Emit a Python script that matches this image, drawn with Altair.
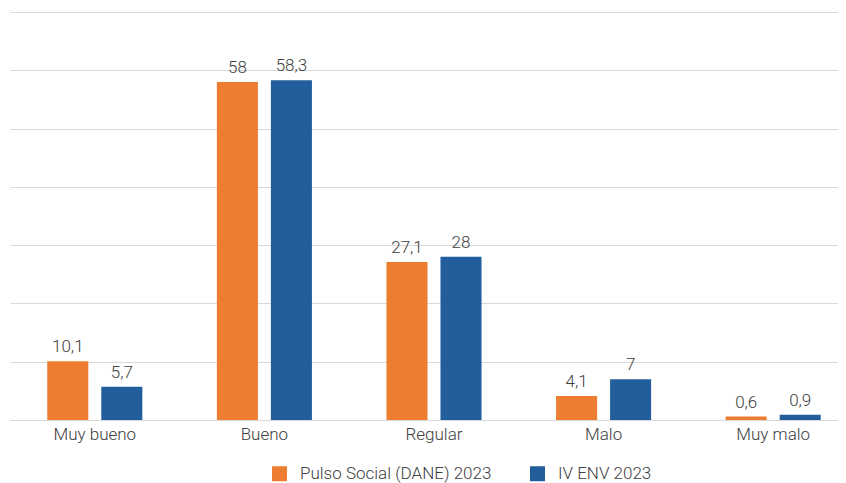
import altair as alt
import pandas as pd

categories = ["Muy bueno", "Bueno", "Regular", "Malo", "Muy malo"]
series = ["Pulso Social (DANE) 2023", "IV ENV 2023"]
pulso = [10.1, 58, 27.1, 4.1, 0.6]
env = [5.7, 58.3, 28, 7, 0.9]
colors = ["#ED7D31", "#225E9C"]
y_ticks = [0, 10, 20, 30, 40, 50, 60, 70]

rows = []
for c, a, b in zip(categories, pulso, env):
    rows.append({"cat": c, "serie": series[0], "val": a})
    rows.append({"cat": c, "serie": series[1], "val": b})
df = pd.DataFrame(rows)
df["label"] = df["val"].map(lambda v: f"{v:g}".replace(".", ","))

FONT = "Roboto"
TXT = "#404040"
GRID = "#D9D9D9"
W = 300

base = alt.Chart(df).encode(
    x=alt.X(
        "cat:N",
        sort=categories,
        scale=alt.Scale(range=[0, 848], paddingInner=0, paddingOuter=0),
        axis=alt.Axis(
            title=None, labelAngle=0, ticks=False, domain=True, domainColor=GRID,
            labelFontSize=17, labelColor=TXT, labelFont=FONT, labelFontWeight=W,
            labelPadding=6,
        ),
    ),
    xOffset=alt.XOffset("serie:N", sort=series,
                        scale=alt.Scale(paddingInner=0.24, paddingOuter=0.69)),
    y=alt.Y(
        "val:Q",
        scale=alt.Scale(domain=[0, 70], nice=False),
        axis=alt.Axis(title=None, labels=False, ticks=False, domain=False,
                      values=y_ticks, grid=True, gridColor=GRID, gridWidth=1),
    ),
)

bars = base.mark_bar().encode(
    color=alt.Color(
        "serie:N", sort=series,
        scale=alt.Scale(domain=series, range=colors),
        legend=alt.Legend(
            title=None, orient="none", legendX=261, legendY=453,
            direction="horizontal", symbolType="square", symbolSize=225,
            symbolStrokeWidth=0, labelFontSize=17, labelFont=FONT,
            labelFontWeight=W, labelColor=TXT, columnPadding=37,
            labelOffset=12, labelLimit=400,
        ),
    )
)

text = base.mark_text(
    baseline="alphabetic", dy=-9, fontSize=17, font=FONT, fontWeight=W,
    color=TXT
).encode(text="label:N")

chart = (bars + text).properties(
    width=828, height=408,
    autosize=alt.AutoSizeParams(type="none"),
    padding={"left": 2, "top": 4, "right": 0, "bottom": 63},
).configure_view(stroke=None)

chart.save("out.html", embed_options={"renderer": "svg", "actions": False})
